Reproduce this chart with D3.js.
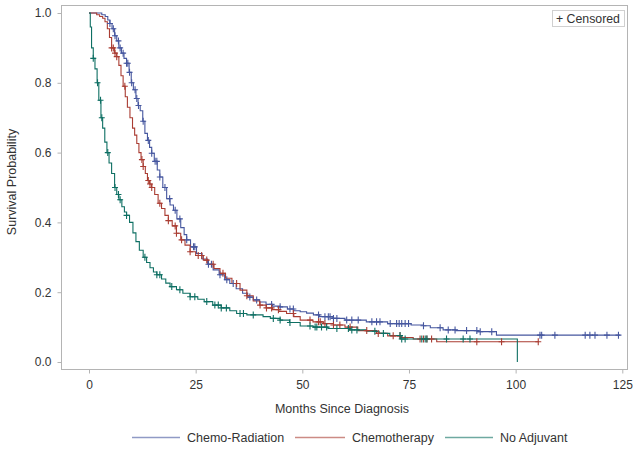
<!DOCTYPE html>
<html><head><meta charset="utf-8">
<script src="https://cdn.jsdelivr.net/npm/d3@7"></script>
<style>body{margin:0;background:#fff}svg{display:block}text{font-family:"Liberation Sans",Arial,sans-serif;fill:#333}</style>
</head><body><svg id="c" width="636" height="449"></svg>
<script>
const seriesNames = ["Chemo-Radiation","Chemotherapy","No Adjuvant"];
const seriesColors = ["#46579f","#aa3d33","#0e6f63"];
const xTicks = [0,25,50,75,100,125];
const yTicks = [0.0,0.2,0.4,0.6,0.8,1.0];

// step points [month, survival]
const chemoRadSteps = [[0,1.0],[3.0,0.995],[3.8,0.99],[4.4,0.98],[4.9,0.97],[5.4,0.955],[6.0,0.935],[6.5,0.92],[7.0,0.90],[7.6,0.885],[8.2,0.87],[8.8,0.856],[9.4,0.83],[9.9,0.80],[10.4,0.78],[11.0,0.755],[11.5,0.735],[12.0,0.72],[12.6,0.69],[13.1,0.655],[13.7,0.635],[14.2,0.615],[14.7,0.598],[15.3,0.575],[16.0,0.55],[16.6,0.53],[17.3,0.50],[18.2,0.468],[19.0,0.45],[19.8,0.435],[20.6,0.41],[21.5,0.385],[22.3,0.365],[22.9,0.35],[23.8,0.33],[25.2,0.311],[26.5,0.295],[27.8,0.28],[29.1,0.264],[30.5,0.25],[31.8,0.236],[33.0,0.225],[34.5,0.21],[36.0,0.197],[37.2,0.186],[38.5,0.178],[40.0,0.172],[41.5,0.165],[43.0,0.16],[44.8,0.158],[46.5,0.152],[48.0,0.147],[49.5,0.144],[51.0,0.14],[52.6,0.135],[54.0,0.13],[57.0,0.125],[60.0,0.12],[65.0,0.115],[70.0,0.11],[75.5,0.106],[78.4,0.104],[80.0,0.098],[83.0,0.092],[86.0,0.09],[91.0,0.087],[95.5,0.077],[124.5,0.077]];
const chemoSteps = [[0,1],[1.8,0.995],[2.5,0.99],[3.2,0.985],[3.75,0.975],[4.3,0.955],[4.8,0.93],[5.3,0.90],[6.0,0.885],[6.5,0.875],[7.0,0.85],[7.5,0.82],[8.0,0.79],[8.5,0.76],[9.0,0.73],[9.6,0.70],[10.2,0.67],[10.7,0.65],[11.2,0.626],[11.7,0.60],[12.2,0.58],[12.7,0.56],[13.2,0.54],[13.7,0.52],[14.2,0.51],[14.7,0.50],[15.4,0.48],[16.2,0.455],[17.0,0.44],[17.8,0.42],[18.6,0.405],[19.5,0.39],[20.5,0.369],[21.5,0.35],[22.5,0.335],[23.7,0.316],[25.0,0.305],[26.8,0.292],[28.0,0.28],[29.3,0.268],[30.7,0.254],[32.0,0.24],[33.5,0.225],[35.4,0.206],[37.0,0.19],[38.5,0.175],[40.0,0.163],[41.5,0.155],[43.0,0.15],[44.5,0.145],[46.3,0.139],[48.0,0.13],[49.5,0.12],[52.5,0.115],[55.0,0.11],[57.3,0.106],[60.0,0.1],[63.0,0.09],[67.4,0.082],[70.0,0.075],[73.0,0.07],[76.0,0.066],[81.5,0.058],[105.5,0.058]];
const noAdjSteps = [[0,1],[0.3,0.96],[0.6,0.9],[1.0,0.87],[1.4,0.84],[1.9,0.80],[2.3,0.75],[2.8,0.70],[3.2,0.67],[3.7,0.63],[4.2,0.60],[4.7,0.57],[5.3,0.54],[6.0,0.50],[6.5,0.48],[7.0,0.465],[7.7,0.445],[8.3,0.43],[8.8,0.42],[9.5,0.40],[10.3,0.37],[11.0,0.345],[11.8,0.32],[12.7,0.30],[13.5,0.285],[14.3,0.27],[15.1,0.258],[15.9,0.25],[17.0,0.238],[18.0,0.226],[19.0,0.216],[20.5,0.207],[22.0,0.197],[23.7,0.187],[25.5,0.18],[27.0,0.173],[29.0,0.163],[31.0,0.155],[33.0,0.147],[34.6,0.139],[37.0,0.135],[40.8,0.13],[42.5,0.125],[44.8,0.12],[47.0,0.113],[49.5,0.103],[52.6,0.1],[56.0,0.096],[61.0,0.092],[65.0,0.088],[68.0,0.082],[70.5,0.076],[73.0,0.066],[100.4,0.0]];

// censored times
const chemoRadCensor = [4.9,5.7,6.1,6.9,7.3,8.0,8.8,9.1,9.5,10.0,10.8,11.2,11.6,12.7,13.9,14.7,15.5,15.9,16.6,17.8,18.9,20.2,21.3,22.9,24.5,24.8,28.0,28.7,30.7,32.3,33.8,37.7,39.3,42.8,44.8,47.1,47.9,53.8,55.3,56.1,56.5,57.3,58.1,60.4,61.6,63.1,66.3,67.4,68.2,70.6,72.1,72.7,73.3,74.1,74.9,78.4,82.3,84.2,85.8,88.5,90.9,91.7,94.4,105.7,106.1,109.2,116.3,117.4,118.6,121.4,124.1];
const chemoCensor = [5.3,5.7,6.1,6.5,8.4,12.4,12.7,13.9,14.3,14.7,16.6,18.6,20.2,20.5,21.7,23.7,25.6,26.4,27.6,29.1,31.4,34.6,37.0,40.1,41.6,42.8,44.4,47.9,51.8,53.8,54.2,55.3,57.3,58.8,61.2,65.1,67.8,71.3,72.9,77.6,78.4,79.2,80.3,90.9,96.7,105.3];
const noAdjCensor = [1.0,2.0,2.7,3.0,4.4,6.1,6.9,7.3,8.8,13.1,15.9,16.6,19.4,21.3,23.7,24.8,27.6,29.5,30.3,31.0,32.2,35.4,36.2,38.5,43.2,44.8,47.1,51.8,53.0,53.4,54.5,55.7,58.1,60.8,61.6,62.8,67.0,69.0,72.9,73.3,74.1,78.0,78.8,79.2,83.8,87.7,89.3];

const allSteps = [chemoRadSteps, chemoSteps, noAdjSteps];
const allCensor = [chemoRadCensor, chemoCensor, noAdjCensor];

const svg = d3.select("#c");
const x = d3.scaleLinear().domain([0,125]).range([89,622.3]);
const y = d3.scaleLinear().domain([0,1]).range([362,13]);
const frame = {l:61.5,t:5.5,r:627.5,b:369.5};

svg.append("rect").attr("x",frame.l).attr("y",frame.t).attr("width",frame.r-frame.l).attr("height",frame.b-frame.t)
  .attr("fill","none").attr("stroke","#b4b4b4").attr("stroke-width",1);

const xa = svg.append("g").attr("transform",`translate(0,${frame.b})`)
  .call(d3.axisBottom(x).tickValues(xTicks).tickSize(4).tickPadding(7).tickFormat(d3.format("d")));
xa.select(".domain").remove();
xa.selectAll("line").attr("stroke","#b4b4b4");
xa.selectAll("text").attr("font-size","12px").attr("fill","#333").style("font-family","Liberation Sans, Arial, sans-serif");

const ya = svg.append("g").attr("transform",`translate(${frame.l},0)`)
  .call(d3.axisLeft(y).tickValues(yTicks).tickSize(4).tickPadding(6).tickFormat(d3.format(".1f")));
ya.select(".domain").remove();
ya.selectAll("line").attr("stroke","#b4b4b4");
ya.selectAll("text").attr("font-size","12px").attr("fill","#333").style("font-family","Liberation Sans, Arial, sans-serif");

svg.append("text").attr("x",342).attr("y",413).attr("text-anchor","middle").attr("font-size","12.5px").text("Months Since Diagnosis");
svg.append("text").attr("transform","translate(16,182) rotate(-90)").attr("text-anchor","middle").attr("font-size","12.5px").text("Survival Probability");

const line = d3.line().x(d=>x(d[0])).y(d=>y(d[1])).curve(d3.curveStepAfter);
function survAt(steps,t){let s=steps[0][1];for(const p of steps){if(p[0]<=t)s=p[1];else break;}return s;}

allSteps.forEach((steps,i)=>{
  svg.append("path").datum(steps).attr("d",line).attr("fill","none").attr("stroke",seriesColors[i]).attr("stroke-width",1.1);
});
allSteps.forEach((steps,i)=>{
  const g = svg.append("g");
  g.selectAll("path").data(allCensor[i]).join("path")
    .attr("d",t=>{const cx=x(t),cy=y(survAt(steps,t));return `M${cx-3},${cy}H${cx+3}M${cx},${cy-3.5}V${cy+3.5}`;})
    .attr("stroke",seriesColors[i]).attr("stroke-width",1.1).attr("fill","none");
});

svg.append("rect").attr("x",552.5).attr("y",10.5).attr("width",72).attr("height",16).attr("fill","#fff").attr("stroke","#d0d0d0");
svg.append("text").attr("x",556).attr("y",22.5).attr("font-size","12.3px").text("+ Censored");

const legX = [[132,180,187],[295,345,352],[445,493,500]];
seriesNames.forEach((n,i)=>{
  svg.append("line").attr("x1",legX[i][0]).attr("x2",legX[i][1]).attr("y1",437.5).attr("y2",437.5)
    .attr("stroke",seriesColors[i]).attr("stroke-opacity",0.6).attr("stroke-width",1.5);
  svg.append("text").attr("x",legX[i][2]).attr("y",442).attr("font-size","12.5px").text(n);
});
</script></body></html>
